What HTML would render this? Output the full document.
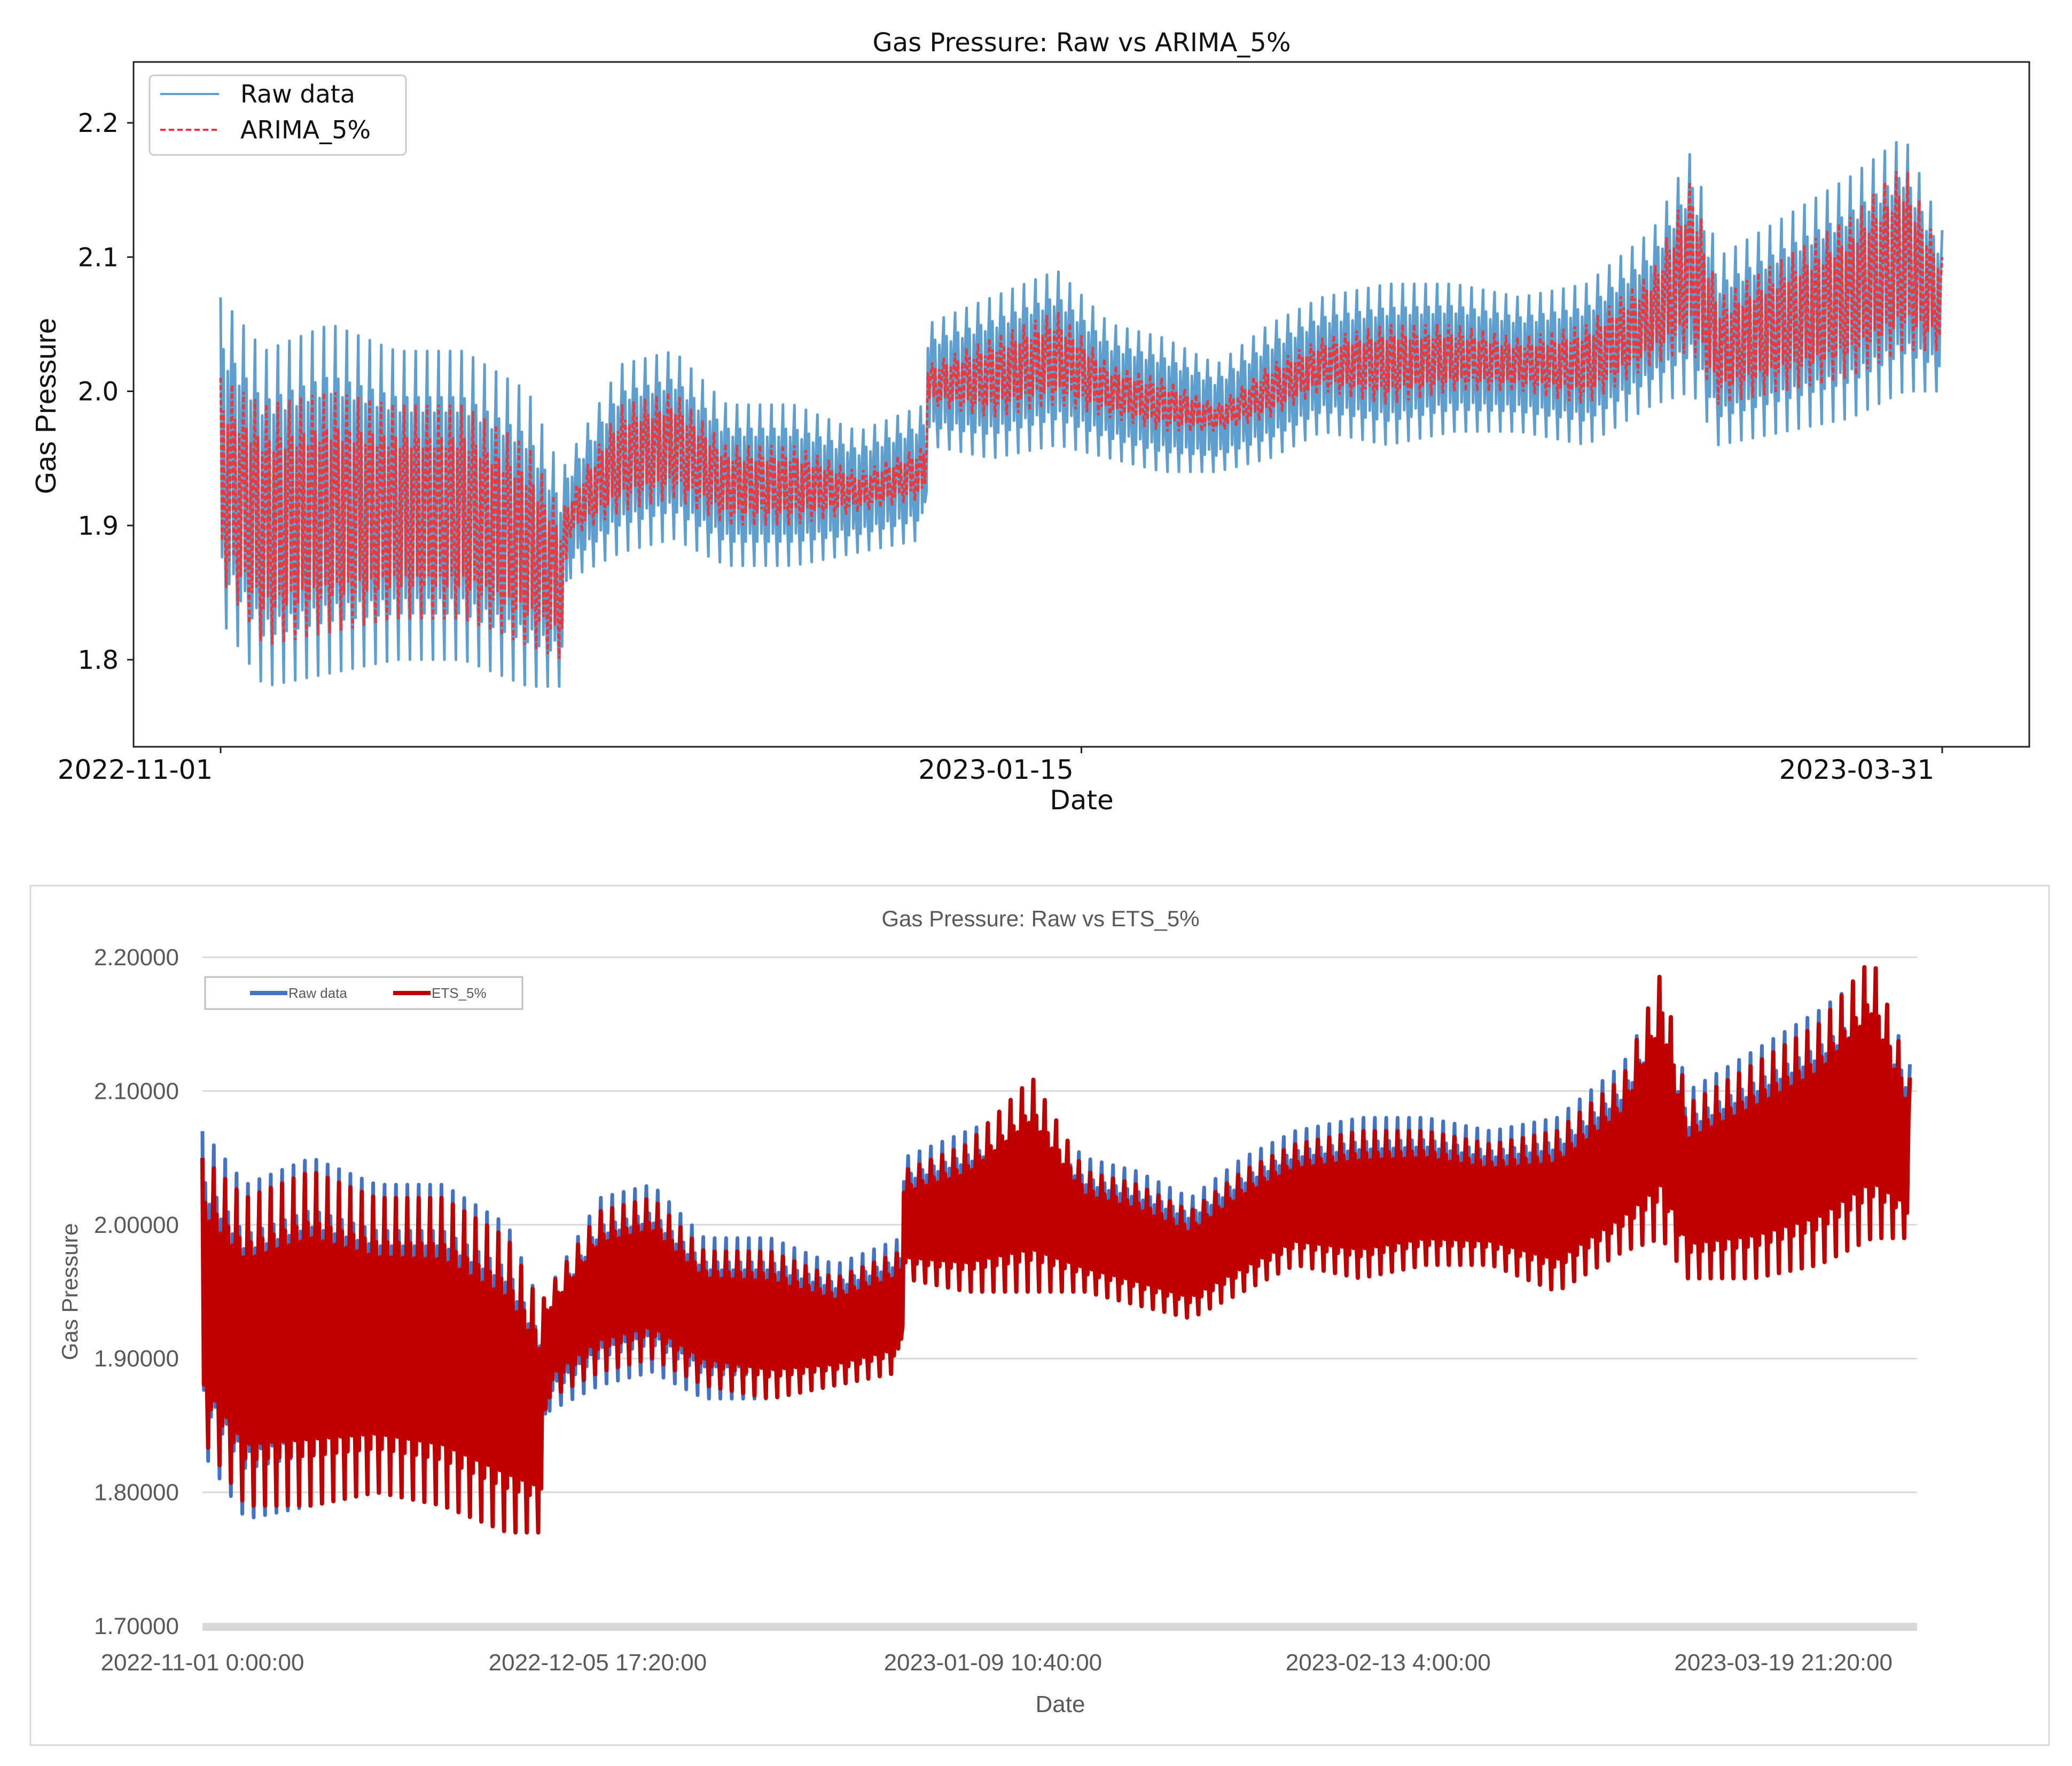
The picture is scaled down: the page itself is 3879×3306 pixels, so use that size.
<!DOCTYPE html>
<html><head><meta charset="utf-8"><style>
html,body{margin:0;padding:0;background:#fff;}
svg{display:block;}
</style></head><body>
<svg id="svg" width="3879" height="3306" viewBox="0 0 3879 3306" xmlns="http://www.w3.org/2000/svg" font-family="'DejaVu Sans', sans-serif">
<rect x="0" y="0" width="3879" height="3306" fill="#fff"/>
<g id="top">
<text x="2025" y="96" font-size="48" text-anchor="middle" fill="#111">Gas Pressure: Raw vs ARIMA_5%</text>
<g id="topPlot"></g>
<rect x="250" y="116" width="3549" height="1282" fill="none" stroke="#222" stroke-width="3"/>
<g id="topAxes"></g>
<text transform="translate(104,760) rotate(-90)" font-size="54" text-anchor="middle" fill="#111" style="font-family:'Liberation Sans Narrow','Liberation Sans',sans-serif">Gas Pressure</text>
<text x="2025" y="1515" font-size="50" text-anchor="middle" fill="#111">Date</text>
<g>
<rect x="280" y="141" width="480" height="149" rx="8" fill="#fff" stroke="#ccc" stroke-width="3"/>
<line x1="300" y1="176" x2="410" y2="176" stroke="#5f9fcf" stroke-width="4"/>
<text x="450" y="192" font-size="46" fill="#111">Raw data</text>
<line x1="300" y1="243" x2="410" y2="243" stroke="#e8393f" stroke-width="4" stroke-dasharray="10,6"/>
<text x="450" y="259" font-size="46" fill="#111">ARIMA_5%</text>
</g>
</g>
<g id="bot">
<rect x="57" y="1658" width="3779" height="1609" fill="#fff" stroke="#d9d9d9" stroke-width="3"/>
<text x="1948" y="1734" font-size="42" text-anchor="middle" fill="#595959" style="font-family:'Liberation Sans Narrow','Liberation Sans',sans-serif">Gas Pressure: Raw vs ETS_5%</text>
<g id="botGrid"></g>
<g id="botPlot"></g>
<rect x="379" y="3038" width="3210" height="15" fill="#d9d9d9"/>
<g id="botAxes"></g>
<text transform="translate(145,2418) rotate(-90)" font-size="42" text-anchor="middle" fill="#595959" style="font-family:'Liberation Sans Narrow','Liberation Sans',sans-serif">Gas Pressure</text>
<text x="1985" y="3205" font-size="44" text-anchor="middle" fill="#595959" style="font-family:'Liberation Sans Narrow','Liberation Sans',sans-serif">Date</text>
<g>
<rect x="384" y="1829" width="594" height="60" fill="#fff" stroke="#bfbfbf" stroke-width="3"/>
<line x1="468" y1="1859" x2="538" y2="1859" stroke="#4472c4" stroke-width="8"/>
<text x="540" y="1868" font-size="26" fill="#595959" style="font-family:'Liberation Sans Narrow','Liberation Sans',sans-serif">Raw data</text>
<line x1="736" y1="1859" x2="806" y2="1859" stroke="#c00000" stroke-width="8"/>
<text x="808" y="1868" font-size="26" fill="#595959" style="font-family:'Liberation Sans Narrow','Liberation Sans',sans-serif">ETS_5%</text>
</g>
</g>
</svg>
<script>
const days   = [0,3.8,9.6,15.3,21.1,26.8,29.7,30.3,34.9,39.5,44.1,49.9,55.6,61.4,61.6,67.2,72.9,77.5,82.1,86.8,91.4,96.0,101.7,107.5,113.2,119.0,124.8,128.2,130.5,136.3,142.0,146.7,150];
const rawHi  = [2.07,2.03,2.05,2.03,2.03,2.00,1.94,1.95,2.02,2.03,1.99,1.99,1.97,1.99,2.05,2.07,2.09,2.05,2.04,2.02,2.05,2.07,2.08,2.08,2.07,2.08,2.12,2.18,2.10,2.13,2.16,2.19,2.12];
const rawLo  = [1.83,1.78,1.79,1.80,1.80,1.78,1.78,1.86,1.88,1.89,1.87,1.87,1.88,1.89,1.96,1.95,1.96,1.95,1.94,1.94,1.95,1.97,1.96,1.97,1.97,1.96,1.99,2.00,1.96,1.97,1.98,2.00,2.00];
const arimaHi= [2.01,1.99,2.00,1.99,1.99,1.96,1.91,1.92,1.99,2.00,1.96,1.96,1.94,1.96,2.02,2.04,2.06,2.02,2.01,1.99,2.02,2.04,2.05,2.05,2.04,2.05,2.09,2.16,2.07,2.10,2.13,2.17,2.10];
const arimaLo= [1.86,1.81,1.82,1.83,1.83,1.81,1.80,1.89,1.91,1.92,1.90,1.90,1.91,1.92,1.99,1.98,1.99,1.98,1.97,1.97,1.98,2.00,1.99,2.00,2.00,1.99,2.02,2.03,1.99,2.00,2.01,2.03,2.03];
const etsHi  = [2.05,2.02,2.04,2.02,2.02,1.99,1.94,1.95,2.01,2.02,1.98,1.98,1.96,1.98,2.04,2.06,2.11,2.04,2.03,2.01,2.04,2.06,2.07,2.07,2.06,2.07,2.11,2.19,2.09,2.12,2.15,2.20,2.11];
const etsLo  = [1.84,1.79,1.79,1.80,1.79,1.77,1.77,1.87,1.89,1.90,1.88,1.87,1.88,1.89,1.96,1.95,1.95,1.95,1.94,1.93,1.95,1.97,1.96,1.97,1.97,1.95,1.98,1.99,1.96,1.96,1.97,1.99,1.99];
const topYTicks = [1.8,1.9,2.0,2.1,2.2];
const topXTicks = [0,75,150];
const topXLabels = ['2022-11-01','2023-01-15','2023-03-31'];
const botYTicks = [1.7,1.8,1.9,2.0,2.1,2.2];
const botXTicks = [0,34.722,69.444,104.167,138.889];
const botXLabels = ['2022-11-01 0:00:00','2022-12-05 17:20:00','2023-01-09 10:40:00','2023-02-13 4:00:00','2023-03-19 21:20:00'];

const CYCLE=[1,-0.6,0.7,-0.45,-1,0.6,-0.7,0.45];

const NS='http://www.w3.org/2000/svg';
function mk(tag,attrs,parent){const e=document.createElementNS(NS,tag);for(const k in attrs)e.setAttribute(k,attrs[k]);parent.appendChild(e);return e;}
function interp(arr,d){for(let i=1;i<days.length;i++){if(d<=days[i]){const t=(d-days[i-1])/Math.max(1e-9,days[i]-days[i-1]);return arr[i-1]+(arr[i]-arr[i-1])*t;}}return arr[arr.length-1];}
function zig(hi,lo,xs,ys,clipMax){let p='';const n=CYCLE.length;const step=1/n;let k=0;for(let d=0;d<=150.0001;d+=step){const h=interp(hi,d),l=interp(lo,d);let v=(h+l)/2+CYCLE[k%n]*(h-l)/2;if(clipMax!==undefined)v=Math.min(v,clipMax);p+=(k?'L':'M')+xs(d).toFixed(1)+' '+ys(v).toFixed(1);k++;}return p;}

const tx=d=>413+(3636-413)*d/150;
const ty=v=>1235-(v-1.8)*2512.5;
const topPlot=document.getElementById('topPlot');
const rawTop=mk('path',{d:zig(rawHi,rawLo,tx,ty),fill:'none',stroke:'#5f9fcf','stroke-width':5,'stroke-linejoin':'round'},topPlot);


const arTop=mk('path',{d:zig(arimaHi,arimaLo,tx,ty),fill:'none',stroke:'#e8393f','stroke-width':4.5,'stroke-dasharray':'9,5'},topPlot);


const topAxes=document.getElementById('topAxes');
topYTicks.forEach(v=>{
  const l=mk('line',{x1:238,x2:250,y1:ty(v),y2:ty(v),stroke:'#222','stroke-width':3},topAxes);
  
  
  const t=mk('text',{x:222,y:ty(v)+17,'font-size':48,'text-anchor':'end',fill:'#111'},topAxes);
  
  
  t.textContent=v.toFixed(1);
});
topXTicks.forEach((d,i)=>{
  const l=mk('line',{x1:tx(d),x2:tx(d),y1:1398,y2:1410,stroke:'#222','stroke-width':3},topAxes);
  
  
  const t=mk('text',{x:tx(d)-160,y:1458,'font-size':50,'text-anchor':'middle',fill:'#111'},topAxes);
  
  
  t.textContent=topXLabels[i];
});

const bx=d=>379+21.31*d;
const by=v=>3044-(v-1.7)*2504;
const botGrid=document.getElementById('botGrid');
botYTicks.forEach(v=>{
  if(v>1.75){const g=mk('line',{x1:379,x2:3589,y1:by(v),y2:by(v),stroke:'#d9d9d9','stroke-width':3},botGrid);
  
  }
  const t=mk('text',{x:335,y:by(v)+15,'font-size':44,'text-anchor':'end',fill:'#595959'},botGrid);
  
  
  t.setAttribute('style',"font-family:'Liberation Sans',sans-serif");
  t.textContent=v.toFixed(5);
});
const botPlot=document.getElementById('botPlot');
const rawB=mk('path',{d:zig(rawHi,rawLo,bx,by,2.2),fill:'none',stroke:'#4472c4','stroke-width':7,'stroke-linejoin':'round'},botPlot);


const etsB=mk('path',{d:zig(etsHi,etsLo,bx,by,2.2),fill:'none',stroke:'#c00000','stroke-width':8,'stroke-linejoin':'round'},botPlot);


const botAxes=document.getElementById('botAxes');
botXTicks.forEach((d,i)=>{
  const t=mk('text',{x:bx(d),y:3127,'font-size':44,'text-anchor':'middle',fill:'#595959'},botAxes);
  
  
  t.setAttribute('style',"font-family:'Liberation Sans Narrow','Liberation Sans',sans-serif");
  t.textContent=botXLabels[i];
});
</script>
</body></html>
